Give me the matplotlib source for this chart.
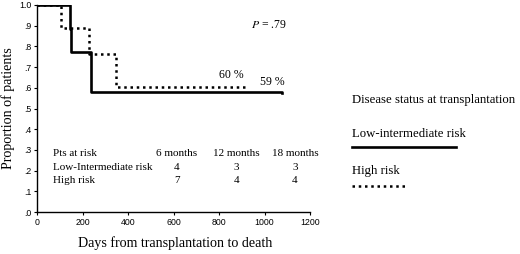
import matplotlib.pyplot as plt

# Kaplan-Meier style curves
low_days = [0, 145, 150, 236, 1075]
low_surv = [1.0, 0.885, 0.775, 0.58, 0.575]
high_days = [0, 105, 230, 346, 914]
high_surv = [1.0, 0.89, 0.765, 0.605, 0.605]

xticks = [0, 200, 400, 600, 800, 1000, 1200]
yticks = [0, 0.1, 0.2, 0.3, 0.4, 0.5, 0.6, 0.7, 0.8, 0.9, 1.0]
ytick_labels = ['.0', '.1', '.2', '.3', '.4', '.5', '.6', '.7', '.8', '.9', '1.0']

risk_cols = ['6 months', '12 months', '18 months']
risk_col_x = [615, 875, 1134]
risk_rows = ['Low-Intermediate risk', 'High risk']
risk_low = [4, 3, 3]
risk_high = [7, 4, 4]

serif = 'Liberation Serif'
W, H = 520, 254

fig = plt.figure(figsize=(5.2, 2.54), dpi=100)
ax = fig.add_axes([37 / W, 1 - 212 / H, 273 / W, 207 / H])

ax.plot(low_days, low_surv, drawstyle='steps-post', color='black', lw=1.9)
ax.plot(high_days, high_surv, drawstyle='steps-post', color='black', lw=1.8,
        linestyle=(0, (1, 1.5)))

ax.set_xlim(0, 1200)
ax.set_ylim(0, 1.0)
ax.set_xticks(xticks)
ax.set_yticks(yticks)
ax.set_yticklabels(ytick_labels)
ax.tick_params(labelsize=6.3, length=2, width=0.8, pad=2, labelfontfamily='Liberation Sans')
for s in ['top', 'right']:
    ax.spines[s].set_visible(False)
for s in ['left', 'bottom']:
    ax.spines[s].set_linewidth(1.0)

ax.set_xlabel('Days from transplantation to death', family=serif, fontsize=10.1)
ax.xaxis.set_label_coords((175 - 37) / 273, -(236 - 212) / 207)
ax.set_ylabel('Proportion of patients', family=serif, fontsize=10.1)
ax.yaxis.set_label_coords(-(37 - 15) / 273, 0.5)

# numbers at risk table
fs = 8
ax.text(70, 0.285, 'Pts at risk', family=serif, fontsize=fs, va='center')
for x, c in zip(risk_col_x, risk_cols):
    ax.text(x, 0.285, c, family=serif, fontsize=fs, va='center', ha='center')
ax.text(70, 0.217, risk_rows[0], family=serif, fontsize=fs, va='center')
ax.text(70, 0.15, risk_rows[1], family=serif, fontsize=fs, va='center')
for x, a, b in zip(risk_col_x, risk_low, risk_high):
    ax.text(x, 0.217, str(a), family=serif, fontsize=fs, va='center', ha='center')
    ax.text(x, 0.15, str(b), family=serif, fontsize=fs, va='center', ha='center')

ax.text(1020, 0.905, r'$P$ = .79', family=serif, fontsize=8.5, va='center', ha='center',
        math_fontfamily='stix')
ax.text(855, 0.66, '60 %', family=serif, fontsize=8.5, va='center', ha='center')
ax.text(1035, 0.63, '59 %', family=serif, fontsize=8.5, va='center', ha='center')

# legend drawn outside the axes
lfs = 9.2
fig.text(352 / W, 1 - 100 / H, 'Disease status at transplantation', family=serif,
         fontsize=lfs, va='center')
fig.text(352 / W, 1 - 134 / H, 'Low-intermediate risk', family=serif, fontsize=lfs, va='center')
fig.add_artist(plt.Line2D([352 / W, 456 / W], [1 - 147 / H, 1 - 147 / H], color='black', lw=1.9))
fig.text(352 / W, 1 - 171 / H, 'High risk', family=serif, fontsize=lfs, va='center')
fig.add_artist(plt.Line2D([352 / W, 408 / W], [1 - 186 / H, 1 - 186 / H], color='black', lw=1.8,
                          linestyle=(0, (1, 1.5))))

fig.savefig('out.png', dpi=100)
